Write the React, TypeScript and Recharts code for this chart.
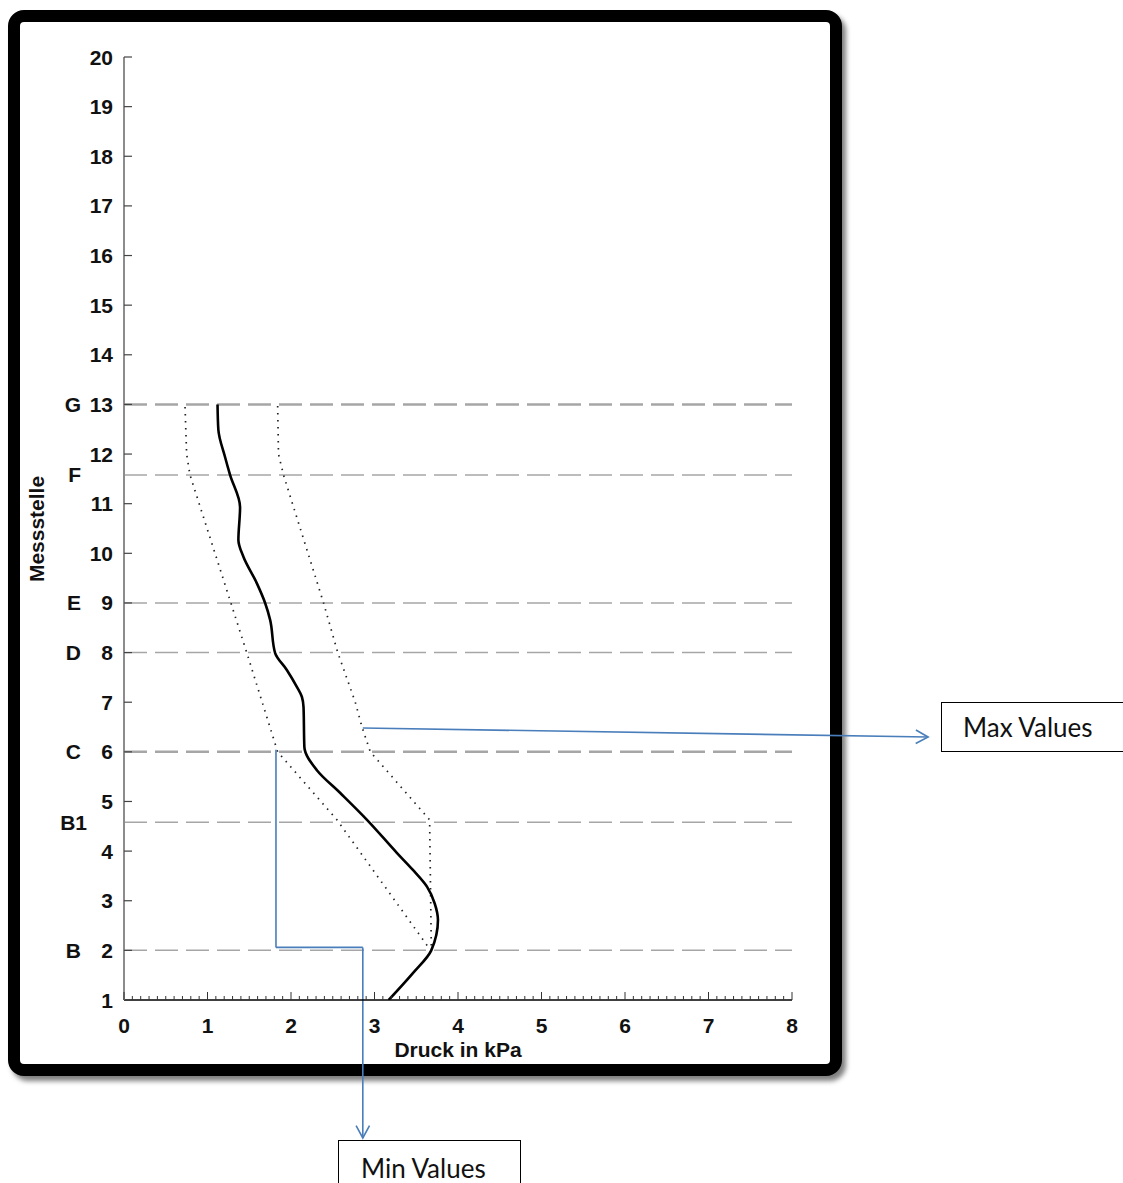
import React from 'react';
import { LineChart, Line, XAxis, YAxis, ReferenceLine } from 'recharts';

// Messstelle (y) und Druck in kPa (x)
const meanStations = [1.0, 1.54, 2.0, 2.61, 2.95, 3.28, 3.62, 3.96, 4.63, 5.17, 5.63, 6.1, 6.9, 7.11, 7.31, 7.65, 7.99, 8.66, 9.0, 9.4, 9.93, 10.27, 10.93, 11.58, 11.94, 12.49, 13.0];
const meanPressure = [3.17, 3.46, 3.68, 3.76, 3.72, 3.63, 3.46, 3.27, 2.91, 2.59, 2.31, 2.16, 2.15, 2.13, 2.07, 1.95, 1.81, 1.75, 1.69, 1.59, 1.43, 1.37, 1.39, 1.27, 1.21, 1.13, 1.12];

const minStations = [2.1, 4.63, 6.0, 8.0, 9.0, 11.58, 12.0, 13.0];
const minPressure = [3.63, 2.55, 1.84, 1.47, 1.28, 0.79, 0.75, 0.73];

const maxStations = [2.1, 4.63, 6.0, 6.5, 7.0, 8.0, 9.0, 11.58, 12.0, 13.0];
const maxPressure = [3.68, 3.66, 2.95, 2.85, 2.77, 2.56, 2.39, 1.91, 1.85, 1.84];

const zoneNames = ['B', 'B1', 'C', 'D', 'E', 'F', 'G'];
const zoneStations = [2, 4.58, 6, 8, 9, 11.58, 13];

const yTicks = [1, 2, 3, 4, 5, 6, 7, 8, 9, 10, 11, 12, 13, 14, 15, 16, 17, 18, 19, 20];
const xTicks = [0, 1, 2, 3, 4, 5, 6, 7, 8];
const xMinorTicks = Array.from({ length: 81 }, (_, i) => i / 10);

// Pfeile: [Druck, Messstelle]
const maxArrow = [[2.86, 6.48], [9.63, 6.3]];
const minArrow = [[1.82, 6.04], [1.82, 2.06], [2.86, 2.06], [2.86, -1.78]];

const meanData = meanStations.map((s, i) => ({ station: s, pressure: meanPressure[i] }));
const minData = minStations.map((s, i) => ({ station: s, pressure: minPressure[i] }));
const maxData = maxStations.map((s, i) => ({ station: s, pressure: maxPressure[i] }));

const FONT = '"Liberation Sans", Arial, sans-serif';
const FS = 21;
const BLUE = '#4a7ebb';

const XTick = (props: any) => {
  const { x, y, payload } = props;
  const v = payload.value;
  const major = xTicks.some((t) => Math.abs(t - v) < 1e-6);
  return (
    <g>
      <line x1={x} x2={x} y1={y} y2={y - (major ? 8 : 4)} stroke="#333" strokeWidth={1} />
      {major && (
        <text x={x} y={y + 33} textAnchor="middle" fontFamily={FONT} fontWeight="bold" fontSize={FS} fill="#111">
          {Math.round(v)}
        </text>
      )}
    </g>
  );
};

const YTick = (props: any) => {
  const { x, y, payload } = props;
  return (
    <g>
      {payload.value !== 1 && <line x1={x} x2={x + 8} y1={y} y2={y} stroke="#444" strokeWidth={1.2} />}
      <text x={x - 11} y={y + 7.5} textAnchor="end" fontFamily={FONT} fontWeight="bold" fontSize={FS} fill="#111">
        {payload.value}
      </text>
    </g>
  );
};

const zoneLabel = (name: string) => (props: any) => {
  const { viewBox } = props;
  return (
    <text x={viewBox.x - (name === 'B1' ? 37 : 43)} y={viewBox.y + 7.5} textAnchor="end" fontFamily={FONT} fontWeight="bold" fontSize={FS} fill="#111">
      {name}
    </text>
  );
};

const plainSegment = (props: any) => (
  <line x1={props.x1} y1={props.y1} x2={props.x2} y2={props.y2} stroke={BLUE} strokeWidth={1.6} />
);

const arrowSegment = (props: any) => {
  const { x1, y1, x2, y2 } = props;
  const a = Math.atan2(y2 - y1, x2 - x1);
  const len = 14;
  const spread = 0.5;
  const p1 = [x2 - len * Math.cos(a - spread), y2 - len * Math.sin(a - spread)];
  const p2 = [x2 - len * Math.cos(a + spread), y2 - len * Math.sin(a + spread)];
  return (
    <g>
      <line x1={x1} y1={y1} x2={x2} y2={y2} stroke={BLUE} strokeWidth={1.6} />
      <polyline points={`${p1[0]},${p1[1]} ${x2},${y2} ${p2[0]},${p2[1]}`} fill="none" stroke={BLUE} strokeWidth={1.6} />
    </g>
  );
};

export default function App() {
  return (
    <div style={{ position: 'absolute', left: 0, top: 0, width: 1123, height: 1183, background: '#fff', overflow: 'hidden' }}>
      <div
        style={{
          position: 'absolute', left: 8, top: 10, width: 834, height: 1066, boxSizing: 'border-box',
          border: '12px solid #000', borderRadius: 16, background: '#fff',
          boxShadow: '4px 5px 5px rgba(0,0,0,0.5)',
        }}
      />
      <div style={{ position: 'absolute', left: 941, top: 702, width: 200, height: 50, boxSizing: 'border-box', border: '1.5px solid #000', background: '#fff', fontFamily: 'Lato, "Open Sans", sans-serif', fontSize: 26, display: 'flex', alignItems: 'center', paddingLeft: 21, color: '#111' }}>
        Max Values
      </div>
      <div style={{ position: 'absolute', left: 338, top: 1140, width: 183, height: 60, boxSizing: 'border-box', border: '1.5px solid #000', background: '#fff', fontFamily: 'Lato, "Open Sans", sans-serif', fontSize: 26, paddingLeft: 22, paddingTop: 11, color: '#111' }}>
        Min Values
      </div>
      <div style={{ position: 'absolute', left: 0, top: 0 }}>
        <LineChart width={1123} height={1183} layout="vertical" margin={{ top: 57, right: 331, bottom: 123, left: 0 }}>
          <XAxis
            type="number"
            dataKey="pressure"
            domain={[0, 8]}
            allowDataOverflow
            ticks={xMinorTicks}
            interval={0}
            tickSize={0}
            tickMargin={0}
            tickLine={false}
            tick={<XTick />}
            height={60}
            axisLine={{ stroke: '#000', strokeWidth: 1.5 }}
            label={() => (
              <text x={458} y={1057} textAnchor="middle" fontFamily={FONT} fontWeight="bold" fontSize={FS} fill="#111">
                Druck in kPa
              </text>
            )}
          />
          <YAxis
            type="number"
            dataKey="station"
            domain={[1, 20]}
            reversed
            allowDataOverflow
            ticks={yTicks}
            interval={0}
            tickSize={0}
            tickMargin={0}
            tickLine={false}
            tick={<YTick />}
            width={124}
            axisLine={{ stroke: '#8c8c8c', strokeWidth: 2 }}
            label={() => (
              <text x={44} y={529} textAnchor="middle" transform="rotate(-90, 44, 529)" fontFamily={FONT} fontWeight="bold" fontSize={FS} fill="#111">
                Messstelle
              </text>
            )}
          />
          {zoneNames.map((name, i) => (
            <ReferenceLine
              key={name}
              y={zoneStations[i]}
              stroke="#a6a6a6"
              strokeWidth={name === 'G' || name === 'C' ? 2.5 : 1.5}
              strokeDasharray="23 8"
              label={zoneLabel(name)}
            />
          ))}
          <Line data={minData} dataKey="pressure" type="linear" stroke="#222" strokeWidth={1.7} strokeDasharray="1.5 5.5" dot={false} isAnimationActive={false} />
          <Line data={maxData} dataKey="pressure" type="linear" stroke="#222" strokeWidth={1.7} strokeDasharray="1.5 5.5" dot={false} isAnimationActive={false} />
          <Line data={meanData} dataKey="pressure" type="monotoneY" stroke="#000" strokeWidth={2.6} dot={false} isAnimationActive={false} />
          <ReferenceLine
            segment={[{ x: maxArrow[0][0], y: maxArrow[0][1] }, { x: maxArrow[1][0], y: maxArrow[1][1] }]}
            ifOverflow="visible"
            shape={arrowSegment}
          />
          {minArrow.slice(0, -1).map((p, i) => (
            <ReferenceLine
              key={`min-${i}`}
              segment={[{ x: p[0], y: p[1] }, { x: minArrow[i + 1][0], y: minArrow[i + 1][1] }]}
              ifOverflow="visible"
              shape={i === minArrow.length - 2 ? arrowSegment : plainSegment}
            />
          ))}
        </LineChart>
      </div>
    </div>
  );
}
